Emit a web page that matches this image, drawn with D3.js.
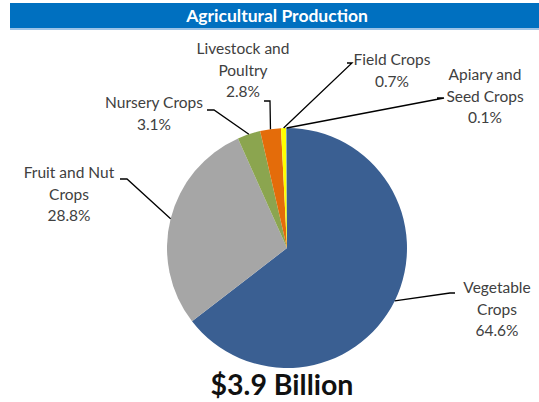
<!DOCTYPE html>
<html>
<head>
<meta charset="utf-8">
<script src="https://cdn.jsdelivr.net/npm/d3@7"></script>
<style>
	body { margin: 0; background: #fff; }
	svg { display: block; }
	text { font-family: Lato, "Open Sans", sans-serif; }
</style>
</head>
<body>
<svg id="chart" width="539" height="402"></svg>
<script>
'use strict';

// data
const title = 'Agricultural Production';
const total = '$3.9 Billion';
const categories = ['Vegetable Crops', 'Fruit and Nut Crops', 'Nursery Crops', 'Livestock and Poultry', 'Field Crops', 'Apiary and Seed Crops'];
const shares = [64.6, 28.8, 3.1, 2.8, 0.7, 0.1];
const labelLines = [
	['Vegetable', 'Crops'],
	['Fruit and Nut', 'Crops'],
	['Nursery Crops'],
	['Livestock and', 'Poultry'],
	['Field Crops'],
	['Apiary and', 'Seed Crops']
];
const colors = ['#3a5f92', '#a6a6a6', '#8ba54f', '#e46c0a', '#ffff00', '#4f81bd'];

// label placement: text centre, first baseline, elbow of the leader line
const layout = [
	{tx: 497, ty: 293, ex: 450, ey: 293, hx: 455},
	{tx: 69, ty: 178, ex: 127, ey: 179, hx: 120},
	{tx: 154, ty: 108, ex: 214, ey: 110, hx: 207},
	{tx: 243, ty: 54, ex: 270, ey: 101, hx: 264},
	{tx: 392, ty: 65, ex: 352, ey: 63, hx: 347},
	{tx: 485, ty: 80, ex: 444, ey: 98, hx: 437}
];

const W = 539, H = 402;
const cx = 287, cy = 248, r = 120;
const lineH = 21.5;

const svg = d3.select('#chart');

// header bar
svg.append('rect')
	.attr('x', 10).attr('y', 3)
	.attr('width', W - 10).attr('height', 25)
	.attr('fill', '#0070c0');
svg.append('rect')
	.attr('x', 10).attr('y', 28)
	.attr('width', W - 10).attr('height', 2)
	.attr('fill', '#9dc3e6');
svg.append('text')
	.attr('x', 277).attr('y', 22)
	.attr('text-anchor', 'middle')
	.attr('font-size', 17.5)
	.attr('font-weight', 'bold')
	.attr('fill', '#fff')
	.text(title);

const rows = categories.map((c, i) => ({cat: c, value: shares[i], lines: labelLines[i], color: colors[i], pos: layout[i]}));

const pie = d3.pie().sort(null).value(d => d.value);
const arc = d3.arc().innerRadius(0).outerRadius(r);
const edge = d3.arc().innerRadius(r).outerRadius(r);
const arcs = pie(rows);

const g = svg.append('g').attr('transform', 'translate(' + cx + ',' + cy + ')');

g.selectAll('path.slice')
	.data(arcs)
	.join('path')
		.attr('class', 'slice')
		.attr('d', arc)
		.attr('fill', d => d.data.color);

// leader lines
g.selectAll('polyline')
	.data(arcs)
	.join('polyline')
		.attr('fill', 'none')
		.attr('stroke', '#000')
		.attr('stroke-width', 1.3)
		.attr('points', d => {
			const p = edge.centroid(d);
			const l = d.data.pos;
			return [[p[0], p[1]], [l.ex - cx, l.ey - cy], [l.hx - cx, l.ey - cy]].join(' ');
		});

// labels
const labels = svg.selectAll('text.lbl')
	.data(arcs)
	.join('text')
		.attr('class', 'lbl')
		.attr('text-anchor', 'middle')
		.attr('font-size', 15.5)
		.attr('fill', '#404040');

labels.each(function(d){
	const t = d3.select(this);
	const lines = d.data.lines.concat([d3.format('.1f')(d.data.value) + '%']);
	t.selectAll('tspan')
		.data(lines)
		.join('tspan')
			.attr('x', d.data.pos.tx)
			.attr('y', (s, i) => d.data.pos.ty + i * lineH)
			.text(s => s);
});

svg.append('text')
	.attr('x', 282).attr('y', 395)
	.attr('text-anchor', 'middle')
	.attr('font-size', 28.5)
	.attr('font-weight', 'bold')
	.attr('fill', '#111')
	.text(total);
</script>
</body>
</html>
